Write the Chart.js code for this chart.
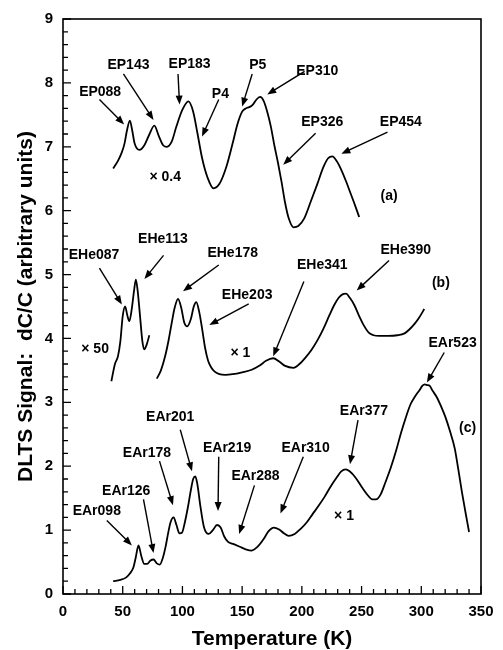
<!DOCTYPE html>
<html>
<head>
<meta charset="utf-8">
<script src="https://cdn.jsdelivr.net/npm/chart.js@4.4.1/dist/chart.umd.min.js"></script>
<style>
  html, body { margin: 0; padding: 0; background: #fff; }
</style>
</head>
<body>
<canvas id="dlts" width="503" height="650"></canvas>
<script>
/* ============================================
   DLTS spectra (a), (b), (c)
============================================ */

// Axis ticks
const xTicks = [0, 50, 100, 150, 200, 250, 300, 350];
const yTicks = [0, 1, 2, 3, 4, 5, 6, 7, 8, 9];

// Spectrum (a), x 0.4
const tempA = [42, 46, 49, 51.5, 53.5, 56, 58, 60, 64, 68, 72, 76.5, 80, 84, 87, 91, 95, 100, 105, 109,
    112.5, 116.5, 121, 126, 131, 137, 142, 146, 150, 153, 156, 159, 162, 165, 168, 171, 174, 177, 180,
    183, 186, 189, 193, 197, 202, 207, 213, 218, 222, 225.5, 229, 233, 237, 241, 245, 248];
const sigA = [6.66, 6.78, 6.90, 7.05, 7.25, 7.41, 7.25, 7.05, 6.95, 7.02, 7.18, 7.33, 7.18, 7.02, 7.00, 7.08, 7.32, 7.58, 7.71, 7.55,
    7.22, 6.82, 6.52, 6.35, 6.42, 6.70, 7.05, 7.35, 7.55, 7.60, 7.62, 7.66, 7.74, 7.78, 7.72, 7.55, 7.32, 7.02, 6.75,
    6.45, 6.12, 5.88, 5.74, 5.76, 5.88, 6.12, 6.42, 6.68, 6.82, 6.85, 6.78, 6.64, 6.46, 6.26, 6.06, 5.90];

// Spectrum (b), low temperature part x 50
const tempB1 = [40.5, 43.5, 46, 48, 50, 52, 54, 55.5, 57.5, 59.5, 61, 62.5, 64.5, 66.5, 68, 70, 72.3];
const sigB1 = [3.33, 3.60, 3.72, 3.95, 4.35, 4.50, 4.35, 4.27, 4.45, 4.75, 4.92, 4.75, 4.35, 3.95, 3.83, 3.90, 4.05];

// Spectrum (b), x 1
const tempB2 = [78.5, 82, 85.5, 88.5, 91, 93.5, 96.3, 99, 101.5, 104, 107, 109.5, 111.6, 114, 116.5, 119, 121.5,
    124, 127, 131, 136, 142, 150, 158, 165, 170, 176, 181, 186, 193, 198, 203, 208, 213, 218, 223, 227, 231,
    234, 237, 240, 244, 248, 252, 256, 260, 265, 272, 280, 286, 290, 294, 298, 302.5];
const sigB2 = [3.37, 3.50, 3.72, 3.98, 4.24, 4.48, 4.62, 4.48, 4.25, 4.19, 4.30, 4.50, 4.57, 4.42, 4.15, 3.85, 3.65,
    3.55, 3.48, 3.44, 3.43, 3.44, 3.47, 3.51, 3.58, 3.65, 3.69, 3.64, 3.57, 3.54, 3.60, 3.70, 3.82, 3.97, 4.15, 4.36, 4.52, 4.64,
    4.69, 4.70, 4.64, 4.52, 4.35, 4.20, 4.09, 4.05, 4.04, 4.04, 4.05, 4.08, 4.14, 4.22, 4.32, 4.46];

// Spectrum (c), x 1
const tempC = [42, 48, 53, 56, 59, 61, 63.2, 65.5, 68, 70.5, 73, 75.8, 78.5, 81, 83.5, 86, 88, 90, 92.6, 95, 97.5,
    99.6, 102, 104.5, 107, 109, 110.8, 112.5, 115, 118, 122, 125.5, 129, 132, 135, 138, 143, 148, 153, 158, 163,
    168, 172, 176.5, 181, 185, 189, 194, 199, 204, 209, 214, 219, 224, 229, 233, 236.7, 240, 245, 250, 255, 259,
    262, 266, 270, 274.5, 279, 283, 287, 291, 295, 298.5, 301, 303, 305, 307, 309.5, 313, 316.5, 320, 324, 328,
    331, 334, 337, 340];
const sigC = [0.20, 0.22, 0.26, 0.32, 0.42, 0.58, 0.76, 0.60, 0.47, 0.47, 0.52, 0.54, 0.48, 0.46, 0.56, 0.75, 0.95, 1.12, 1.20, 1.08, 0.95,
    0.96, 1.12, 1.35, 1.62, 1.80, 1.84, 1.72, 1.38, 1.05, 0.94, 1.00, 1.08, 1.04, 0.90, 0.82, 0.78, 0.74, 0.70, 0.68, 0.74,
    0.86, 0.98, 1.04, 1.01, 0.95, 0.91, 0.94, 1.02, 1.12, 1.25, 1.38, 1.52, 1.68, 1.82, 1.92, 1.95, 1.92, 1.82, 1.68, 1.55, 1.48,
    1.48, 1.56, 1.75, 1.98, 2.25, 2.52, 2.76, 2.97, 3.10, 3.19, 3.26, 3.28, 3.27, 3.26, 3.18, 3.08, 2.94, 2.78, 2.55, 2.28,
    1.95, 1.60, 1.28, 0.97];

// Peak labels: text centre (tx, ty), arrow from (ax, ay) to (bx, by), all in data units
const notes = [
    { t: 'EP088', tx: 31.1, ty: 7.85, ax: 30.5, ay: 7.74, bx: 51.2, by: 7.35 },
    { t: 'EP143', tx: 54.8, ty: 8.27, ax: 50.6, ay: 8.14, bx: 75.8, by: 7.42 },
    { t: 'EP183', tx: 106, ty: 8.30, ax: 96.3, ay: 8.14, bx: 97.6, by: 7.66 },
    { t: 'P4', tx: 131.8, ty: 7.83, ax: 130.4, ay: 7.74, bx: 116.4, by: 7.16 },
    { t: 'P5', tx: 163.1, ty: 8.27, ax: 158.4, ay: 8.14, bx: 150, by: 7.63 },
    { t: 'EP310', tx: 212.9, ty: 8.19, ax: 202.3, ay: 8.18, bx: 171, by: 7.82 },
    { t: 'EP326', tx: 217.1, ty: 7.38, ax: 211.5, ay: 7.21, bx: 184.4, by: 6.72 },
    { t: 'EP454', tx: 282.9, ty: 7.39, ax: 271.7, ay: 7.23, bx: 233.1, by: 6.89 },
    { t: '× 0.4', tx: 85.6, ty: 6.52 },
    { t: '(a)', tx: 273, ty: 6.22 },
    { t: 'EHe087', tx: 26, ty: 5.30, ax: 30.5, ay: 5.10, bx: 49.3, by: 4.53 },
    { t: 'EHe113', tx: 83.7, ty: 5.55, ax: 84.2, ay: 5.30, bx: 68.2, by: 4.93 },
    { t: 'EHe178', tx: 142.1, ty: 5.34, ax: 130.4, ay: 5.15, bx: 100.5, by: 4.74 },
    { t: 'EHe203', tx: 154.2, ty: 4.67, ax: 155.5, ay: 4.54, bx: 122.5, by: 4.21 },
    { t: 'EHe341', tx: 217.1, ty: 5.15, ax: 201.7, ay: 4.89, bx: 176, by: 3.72 },
    { t: 'EHe390', tx: 287, ty: 5.38, ax: 273, ay: 5.22, bx: 245.9, by: 4.75 },
    { t: '(b)', tx: 316.4, ty: 4.86 },
    { t: '× 50', tx: 26.9, ty: 3.83 },
    { t: '× 1', tx: 148.6, ty: 3.77 },
    { t: 'EAr523', tx: 326.2, ty: 3.93, ax: 319.2, ay: 3.78, bx: 304.7, by: 3.31 },
    { t: 'EAr377', tx: 252, ty: 2.86, ax: 247, ay: 2.72, bx: 240.3, by: 2.03 },
    { t: '(c)', tx: 338.8, ty: 2.59 },
    { t: 'EAr201', tx: 89.8, ty: 2.77, ax: 98.2, ay: 2.57, bx: 108, by: 1.92 },
    { t: 'EAr178', tx: 70.3, ty: 2.20, ax: 80.8, ay: 2.08, bx: 92.1, by: 1.39 },
    { t: 'EAr219', tx: 137.4, ty: 2.29, ax: 130.4, ay: 2.15, bx: 129.8, by: 1.30 },
    { t: 'EAr310', tx: 203.1, ty: 2.29, ax: 201.2, ay: 2.15, bx: 182.1, by: 1.26 },
    { t: 'EAr288', tx: 161.2, ty: 1.84, ax: 160.3, ay: 1.70, bx: 147.5, by: 0.94 },
    { t: 'EAr126', tx: 52.9, ty: 1.61, ax: 67.4, ay: 1.48, bx: 75.8, by: 0.64 },
    { t: 'EAr098', tx: 28.3, ty: 1.30, ax: 36.7, ay: 1.15, bx: 57.7, by: 0.76 },
    { t: '× 1', tx: 235.3, ty: 1.22 }
];

const FONT = "'Liberation Sans', Arial, Helvetica, sans-serif";

/**
 * Zip two arrays into {x, y} points
 */
function toPoints(xs, ys) {
    return xs.map((x, i) => ({ x: x, y: ys[i] }));
}

function curve(xs, ys) {
    return {
        data: toPoints(xs, ys),
        borderColor: '#000',
        borderWidth: 1.8,
        pointRadius: 0,
        fill: false,
        cubicInterpolationMode: 'monotone'
    };
}

/**
 * Frame round the plot and inward tick marks (major + minor)
 */
const framePlugin = {
    id: 'frame',
    afterDraw(chart) {
        const { ctx, chartArea: a, scales: { x, y } } = chart;
        ctx.save();
        ctx.strokeStyle = '#000';
        ctx.lineWidth = 1.6;
        ctx.strokeRect(a.left, a.top, a.right - a.left, a.bottom - a.top);

        ctx.lineWidth = 1.3;
        ctx.beginPath();
        // x ticks: every 10 K, long at labels
        for (let v = xTicks[0]; v <= xTicks[xTicks.length - 1]; v += 10) {
            const px = x.getPixelForValue(v);
            const len = xTicks.includes(v) ? 8 : 5;
            ctx.moveTo(px, a.bottom);
            ctx.lineTo(px, a.bottom - len);
        }
        // y ticks: every 0.2, long at labels
        for (let i = 0; i <= (yTicks.length - 1) * 5; i++) {
            const v = i / 5;
            const py = y.getPixelForValue(v);
            const len = i % 5 === 0 ? 8 : 5;
            ctx.moveTo(a.left, py);
            ctx.lineTo(a.left + len, py);
        }
        ctx.stroke();
        ctx.restore();
    }
};

/**
 * Peak names with arrows
 */
const notesPlugin = {
    id: 'notes',
    afterDatasetsDraw(chart) {
        const { ctx, scales: { x, y } } = chart;
        ctx.save();
        ctx.fillStyle = '#000';
        ctx.strokeStyle = '#000';
        ctx.font = `bold 14px ${FONT}`;
        ctx.textAlign = 'center';
        ctx.textBaseline = 'middle';
        notes.forEach(n => {
            ctx.fillText(n.t, x.getPixelForValue(n.tx), y.getPixelForValue(n.ty));
            if (n.ax === undefined) return;
            const x1 = x.getPixelForValue(n.ax), y1 = y.getPixelForValue(n.ay);
            const x2 = x.getPixelForValue(n.bx), y2 = y.getPixelForValue(n.by);
            const ang = Math.atan2(y2 - y1, x2 - x1);
            const head = 9, half = 3.5;
            ctx.lineWidth = 1.4;
            ctx.beginPath();
            ctx.moveTo(x1, y1);
            ctx.lineTo(x2 - Math.cos(ang) * head * 0.8, y2 - Math.sin(ang) * head * 0.8);
            ctx.stroke();
            ctx.beginPath();
            ctx.moveTo(x2, y2);
            ctx.lineTo(x2 - Math.cos(ang) * head - Math.sin(ang) * half,
                       y2 - Math.sin(ang) * head + Math.cos(ang) * half);
            ctx.lineTo(x2 - Math.cos(ang) * head + Math.sin(ang) * half,
                       y2 - Math.sin(ang) * head - Math.cos(ang) * half);
            ctx.closePath();
            ctx.fill();
        });
        ctx.restore();
    }
};

new Chart(document.getElementById('dlts'), {
    type: 'line',
    data: {
        datasets: [
            curve(tempA, sigA),
            curve(tempB1, sigB1),
            curve(tempB2, sigB2),
            curve(tempC, sigC)
        ]
    },
    options: {
        responsive: false,
        animation: false,
        devicePixelRatio: 1,
        layout: { padding: { top: 13, right: 22, left: 0, bottom: 0 } },
        plugins: { legend: { display: false }, tooltip: { enabled: false } },
        scales: {
            x: {
                type: 'linear',
                min: xTicks[0],
                max: xTicks[xTicks.length - 1],
                afterBuildTicks: s => { s.ticks = xTicks.map(v => ({ value: v })); },
                afterFit: s => { s.height = 56; },
                grid: { display: false, drawTicks: false },
                border: { display: false },
                ticks: {
                    color: '#000',
                    padding: 9,
                    maxRotation: 0,
                    font: { family: FONT, size: 15, weight: 'bold' }
                },
                title: {
                    display: true,
                    text: 'Temperature (K)',
                    color: '#000',
                    padding: { top: 0, bottom: 0 },
                    font: { family: FONT, size: 21, weight: 'bold', lineHeight: 1 }
                }
            },
            y: {
                type: 'linear',
                min: yTicks[0],
                max: yTicks[yTicks.length - 1],
                afterBuildTicks: s => { s.ticks = yTicks.map(v => ({ value: v })); },
                afterFit: s => { s.width = 63; },
                grid: { display: false, drawTicks: false },
                border: { display: false },
                ticks: {
                    color: '#000',
                    padding: 10,
                    font: { family: FONT, size: 15, weight: 'bold' }
                },
                title: {
                    display: true,
                    text: 'DLTS Signal:  dC/C (arbitrary units)',
                    color: '#000',
                    padding: { top: 15.5, bottom: 0 },
                    font: { family: FONT, size: 21, weight: 'bold', lineHeight: 1 }
                }
            }
        }
    },
    plugins: [framePlugin, notesPlugin]
});
</script>
</body>
</html>
